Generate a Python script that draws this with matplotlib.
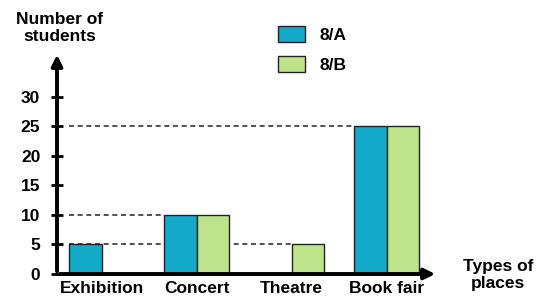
import matplotlib
matplotlib.use('Agg')
import matplotlib.pyplot as plt
import numpy as np
from matplotlib.patches import Patch

# data
places = ['Exhibition', 'Concert', 'Theatre', 'Book fair']
class_a = [5, 10, 0, 25]
class_b = [0, 10, 5, 25]
y_ticks = [0, 5, 10, 15, 20, 25, 30]

col_a = '#13a9c8'
col_b = '#bde48a'
edge = '#222222'

plt.rcParams['font.family'] = ['Liberation Sans', 'DejaVu Sans']
plt.rcParams['font.weight'] = 'bold'
fs = 12.5

fig = plt.figure(figsize=(5.46, 3.0), dpi=100)
ax = fig.add_axes([57 / 546, 26 / 300, 381 / 546, 222 / 300])

x = np.arange(len(places))
w = 0.34
for i, (a, b) in enumerate(zip(class_a, class_b)):
    if a > 0:
        ax.bar(x[i] - w / 2, a, w, color=col_a, edgecolor=edge, linewidth=1, zorder=3)
    if b > 0:
        ax.bar(x[i] + w / 2, b, w, color=col_b, edgecolor=edge, linewidth=1, zorder=3)

ax.set_xlim(-0.47, 3.54)
ax.set_ylim(0, 37.6)

# dashed guide lines, starting near the first bar and ending at a bar of that height
tops = sorted(set(class_a + class_b) - {0})
start = x[0] - w
for v in tops:
    firsts = []
    for i in range(len(places)):
        if class_a[i] == v:
            firsts.append(x[i] - w)
        elif class_b[i] == v:
            firsts.append(x[i])
    stop = max(firsts) if v == 5 else min(firsts)
    ax.plot([start, stop], [v, v], ls=(0, (3, 2.2)), color='#333333', lw=1.2, zorder=1)

for s in ['top', 'right', 'left', 'bottom']:
    ax.spines[s].set_visible(False)

# axes with arrows
ax.annotate('', xy=(0, 1.0), xytext=(0, 0), xycoords='axes fraction',
            arrowprops=dict(arrowstyle='-|>', lw=2.8, color='black', mutation_scale=16))
ax.annotate('', xy=(1.0, 0), xytext=(0, 0), xycoords='axes fraction',
            arrowprops=dict(arrowstyle='-|>', lw=2.8, color='black', mutation_scale=16))

ax.set_yticks(y_ticks)
ax.set_yticklabels([str(t) for t in y_ticks], fontsize=fs, fontweight='bold')
ax.tick_params(axis='y', direction='inout', length=8, width=2, pad=8)
ax.set_xticks(x)
ax.set_xticklabels(places, fontsize=fs, fontweight='bold')
ax.tick_params(axis='x', length=0, pad=5)

fig.text(60 / 546, 1 - 28 / 300, 'Number of\nstudents', ha='center', va='center',
         fontsize=fs, fontweight='bold', linespacing=1.1)
fig.text(498 / 546, 1 - 275 / 300, 'Types of\nplaces', ha='center', va='center',
         fontsize=fs, fontweight='bold', linespacing=1.1)

handles = [Patch(facecolor=col_a, edgecolor=edge, label='8/A'),
           Patch(facecolor=col_b, edgecolor=edge, label='8/B')]
fig.legend(handles=handles, loc='upper left', bbox_to_anchor=(262 / 546, 1 - 10 / 300),
           frameon=False, fontsize=fs, handlelength=1.6, handleheight=1.05,
           labelspacing=0.75, handletextpad=0.8)

fig.savefig('out.png', dpi=100, facecolor='white')
plt.close(fig)
